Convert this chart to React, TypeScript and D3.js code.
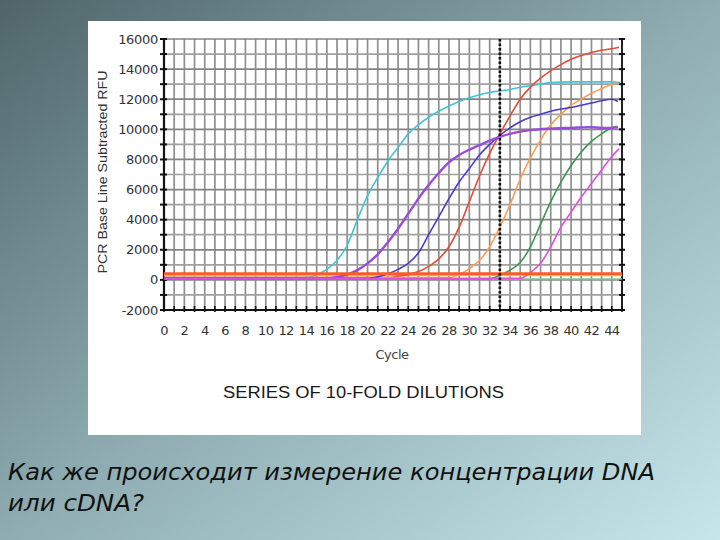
import React from "react";
import * as d3 from "d3";

type Pt = [number, number];

const xTicks = d3.range(0, 45, 2);
const yTicks = [-2000, 0, 2000, 4000, 6000, 8000, 10000, 12000, 14000, 16000];

const cyan: Pt[] = [[0,150],[14,150],[15,350],[16,700],[17,1300],[18,2300],[19,4000],[20,5600],[21,6800],[22,7900],[23,8800],[24,9700],[25,10300],[26,10800],[27,11200],[28,11550],[29,11850],[30,12100],[31,12300],[32,12450],[33,12550],[34,12650],[35,12800],[36,12900],[37,13000],[38,13100],[40,13150],[42,13150],[44,13150],[44.8,13100]];
const purple: Pt[] = [[0,100],[16,100],[17,200],[18,350],[19,650],[20,1100],[21,1700],[22,2500],[23,3400],[24,4400],[25,5400],[26,6300],[27,7100],[28,7800],[29,8300],[30,8650],[31,8950],[32,9250],[33,9500],[34,9700],[35,9850],[36,9950],[38,10050],[40,10100],[42,10150],[43,10100],[44,10100],[44.6,10150]];
const blue: Pt[] = [[0,100],[20,100],[21,200],[22,400],[23,700],[24,1100],[25,1800],[26,3000],[27,4200],[28,5400],[29,6500],[30,7400],[31,8300],[32,9000],[33,9600],[34,10100],[35,10500],[36,10800],[37,11000],[38,11200],[39,11350],[40,11450],[41,11600],[42,11750],[43,11900],[44,12000],[44.6,11850]];
const red: Pt[] = [[0,150],[22,150],[23,250],[24,350],[25,550],[26,900],[27,1400],[28,2200],[29,3500],[30,5200],[31,6900],[32,8400],[33,9700],[34,10900],[35,12000],[36,12800],[37,13400],[38,13900],[39,14300],[40,14650],[41,14900],[42,15100],[43,15250],[44,15350],[44.7,15450]];
const orange: Pt[] = [[0,150],[28,150],[29,350],[30,750],[31,1300],[32,2200],[33,3500],[34,5000],[35,6700],[36,8100],[37,9300],[38,10300],[39,11000],[40,11600],[41,12000],[42,12400],[43,12700],[44,13000],[44.6,13100]];
const green: Pt[] = [[0,80],[32,80],[33,300],[34,650],[35,1150],[36,2200],[37,3700],[38,5200],[39,6500],[40,7600],[41,8500],[42,9200],[43,9700],[44,10100],[44.5,10200]];
const magenta: Pt[] = [[0,80],[35,100],[36,500],[37,1100],[38,2200],[39,3500],[40,4500],[41,5500],[42,6400],[43,7300],[44,8200],[44.7,8700]];
const yellowFlat: Pt[] = [[0,300],[45,300]];
const greenFlat: Pt[] = [[0,60],[45,60]];
const thresholdValue = 400;
const thresholdCycle = 33;

const seriesList: { name: string; data: Pt[]; color: string; w: number }[] = [
  { name: "greenFlat", data: greenFlat, color: "#86c79a", w: 1.6 },
  { name: "yellow", data: yellowFlat, color: "#e2dc3c", w: 1.6 },
  { name: "cyan", data: cyan, color: "#40c6d6", w: 1.6 },
  { name: "red", data: red, color: "#e24c38", w: 1.6 },
  { name: "orange", data: orange, color: "#ff9c54", w: 1.6 },
  { name: "blue", data: blue, color: "#4a3ad0", w: 1.6 },
  { name: "green", data: green, color: "#3a9650", w: 1.6 },
  { name: "purple", data: purple, color: "#9a4cd8", w: 2.4 },
  { name: "magenta", data: magenta, color: "#e24ee2", w: 1.6 },
];

export default function App() {
  const x = d3.scaleLinear().domain([0, 45]).range([164, 622]);
  const y = d3.scaleLinear().domain([-2000, 16000]).range([310, 39]);
  const line = d3
    .line<Pt>()
    .x((d) => x(d[0]))
    .y((d) => y(d[1]))
    .curve(d3.curveMonotoneX);

  const vGrid = d3.range(0, 46, 1);
  const hGrid = d3.range(-2000, 16001, 1000);

  return (
    <svg width={720} height={540} style={{ position: "absolute", left: 0, top: 0 }}>
      <defs>
        <linearGradient id="bg" x1="0" y1="0" x2="1" y2="1">
          <stop offset="0" stopColor="#4f656a" />
          <stop offset="0.5" stopColor="#8eacb1" />
          <stop offset="1" stopColor="#c6e6eb" />
        </linearGradient>
      </defs>
      <rect x={0} y={0} width={720} height={540} fill="url(#bg)" />
      <rect x={88} y={21} width={553} height={414} fill="#ffffff" />

      {/* grid */}
      {vGrid.map((c) => (
        <line key={"v" + c} x1={x(c)} x2={x(c)} y1={y(16000)} y2={y(-2000)} stroke="#8f8f8f" strokeWidth={1.7} />
      ))}
      {hGrid.map((v) => (
        <line key={"h" + v} x1={x(0)} x2={x(45)} y1={y(v)} y2={y(v)} stroke={v % 2000 === 0 ? "#848484" : "#a0a0a0"} strokeWidth={1.7} />
      ))}

      {/* axes */}
      <line x1={x(0)} x2={x(0)} y1={y(16000)} y2={y(-2000)} stroke="#111" strokeWidth={2.2} />
      <line x1={x(45)} x2={x(45)} y1={y(16000)} y2={y(-2000)} stroke="#222" strokeWidth={2} />
      <line x1={x(0)} x2={x(45)} y1={y(-2000)} y2={y(-2000)} stroke="#111" strokeWidth={2.2} />
      {hGrid.map((v) => (
        <g key={"t" + v}>
          <line x1={x(0) - 4} x2={x(0) + 3} y1={y(v)} y2={y(v)} stroke="#111" strokeWidth={2} />
          <line x1={x(45) - 3} x2={x(45) + 3} y1={y(v)} y2={y(v)} stroke="#111" strokeWidth={2} />
        </g>
      ))}
      {vGrid.map((c) => (
        <line key={"bt" + c} x1={x(c)} x2={x(c)} y1={y(-2000) - 4} y2={y(-2000) + 2} stroke="#111" strokeWidth={1.6} />
      ))}

      {/* tick labels */}
      {yTicks.map((v) => (
        <text key={"yl" + v} x={158} y={y(v) + 4.5} textAnchor="end" fontFamily="DejaVu Sans, Verdana, sans-serif" fontSize={13} fill="#333" letterSpacing={-0.3}>
          {v}
        </text>
      ))}
      {xTicks.map((c) => (
        <text key={"xl" + c} x={x(c)} y={335} textAnchor="middle" fontFamily="DejaVu Sans, Verdana, sans-serif" fontSize={13} fill="#333" letterSpacing={-0.6}>
          {c}
        </text>
      ))}

      {/* series */}
      {seriesList.map((s) => (
        <path key={s.name} d={line(s.data) || ""} fill="none" stroke={s.color} strokeWidth={s.w} />
      ))}

      {/* threshold */}
      <line x1={x(0)} x2={x(45)} y1={y(thresholdValue)} y2={y(thresholdValue)} stroke="#ff5a2a" strokeWidth={3} />
      <line x1={x(thresholdCycle)} x2={x(thresholdCycle)} y1={y(16000)} y2={y(-2000)} stroke="#111" strokeWidth={2.6} strokeDasharray="2.5,2" />

      {/* axis titles */}
      <text x={392} y={359} textAnchor="middle" fontFamily="DejaVu Sans, Verdana, sans-serif" fontSize={13} fill="#444" letterSpacing={-0.5}>
        Cycle
      </text>
      <text transform="translate(107,172) rotate(-90)" textAnchor="middle" fontFamily="Liberation Sans, Arial, sans-serif" fontSize={13} fill="#333" textLength={203} lengthAdjust="spacingAndGlyphs">
        PCR Base Line Subtracted RFU
      </text>
      <text x={223} y={398} fontFamily="Liberation Sans, Arial, sans-serif" fontSize={16} fill="#1a1a1a" textLength={281} lengthAdjust="spacingAndGlyphs">
        SERIES OF 10-FOLD DILUTIONS
      </text>

      {/* slide caption */}
      <text x={8} y={480} fontFamily="DejaVu Sans, sans-serif" fontStyle="italic" fontSize={23} fill="#111" textLength={647} lengthAdjust="spacingAndGlyphs">
        Как же происходит измерение концентрации DNA
      </text>
      <text x={8} y={511} fontFamily="DejaVu Sans, sans-serif" fontStyle="italic" fontSize={23} fill="#111" textLength={136} lengthAdjust="spacingAndGlyphs">
        или cDNA?
      </text>
    </svg>
  );
}
